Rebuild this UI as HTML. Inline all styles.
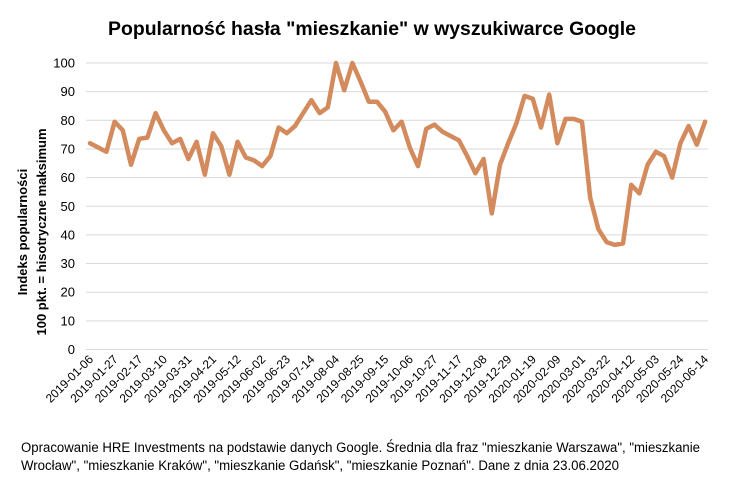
<!DOCTYPE html>
<html><head><meta charset="utf-8"><style>body{margin:0;background:#fff}svg{display:block}</style></head><body>
<svg width="736" height="483" xmlns="http://www.w3.org/2000/svg" font-family="Liberation Sans, sans-serif">
<rect width="736" height="483" fill="#fff"/>
<text x="372" y="35" text-anchor="middle" font-size="19" font-weight="bold" textLength="528" lengthAdjust="spacingAndGlyphs">Popularność hasła "mieszkanie" w wyszukiwarce Google</text>
<g stroke="#d9d9d9" stroke-width="1" id="grid"></g>
<g id="ylab" font-size="13" text-anchor="end" fill="#000"></g>
<g id="xlab" font-size="12" text-anchor="end" fill="#000"></g>
<text transform="translate(27,232) rotate(-90)" text-anchor="middle" font-size="13" font-weight="bold">Indeks popularności</text>
<text transform="translate(46,232) rotate(-90)" text-anchor="middle" font-size="13" font-weight="bold">100 pkt. = hisotryczne maksimum</text>
<polyline id="line" fill="none" stroke="#d38b5d" stroke-width="4.5" stroke-linejoin="round" stroke-linecap="round"/>
<text x="21" y="452" font-size="13.5" textLength="679" lengthAdjust="spacingAndGlyphs">Opracowanie HRE Investments na podstawie danych Google. Średnia dla fraz "mieszkanie Warszawa", "mieszkanie</text>
<text x="21" y="470" font-size="13.5" textLength="598" lengthAdjust="spacingAndGlyphs">Wrocław", "mieszkanie Kraków", "mieszkanie Gdańsk", "mieszkanie Poznań". Dane z dnia 23.06.2020</text>
<script>
var ns="http://www.w3.org/2000/svg";
var v=[72,70.5,69,79.5,76.5,64.5,73.5,74,82.5,76.5,72,73.5,66.5,72.5,61,75.5,71,61,72.5,67,66,64,67.5,77.5,75.5,78,82.5,87,82.5,84.5,100,90.5,100,93.5,86.5,86.5,83,76.5,79.5,70.5,64,77,78.5,76,74.5,73,67.5,61.5,66.5,47.5,64.5,72,79,88.5,87.5,77.5,89,72,80.5,80.5,79.5,53,42,37.5,36.5,37,57.5,54.5,64.5,69,67.5,60,72,78,71.5,79.5];
function Y(d){return 349.5-d*2.865;}
function X(i){return 90+i*8.2;}
var g=document.getElementById('grid'),yl=document.getElementById('ylab'),xl=document.getElementById('xlab');
for(var k=0;k<=10;k++){var y=Y(k*10);var l=document.createElementNS(ns,'line');l.setAttribute('x1',86);l.setAttribute('x2',708);l.setAttribute('y1',y);l.setAttribute('y2',y);g.appendChild(l);
var t=document.createElementNS(ns,'text');t.setAttribute('x',75);t.setAttribute('y',y+4.5);t.textContent=k*10;yl.appendChild(t);}
var pts=v.map(function(d,i){return X(i).toFixed(1)+','+Y(d).toFixed(1)}).join(' ');
document.getElementById('line').setAttribute('points',pts);
var d0=Date.UTC(2019,0,6);
for(var i=0;i<76;i+=3){var dt=new Date(d0+i*7*864e5);var s=dt.getUTCFullYear()+'-'+('0'+(dt.getUTCMonth()+1)).slice(-2)+'-'+('0'+dt.getUTCDate()).slice(-2);
var t=document.createElementNS(ns,'text');var x=X(i)+4,y=360;t.setAttribute('transform','translate('+x+','+y+') rotate(-45)');t.textContent=s;xl.appendChild(t);}
</script>
</svg>
</body></html>
